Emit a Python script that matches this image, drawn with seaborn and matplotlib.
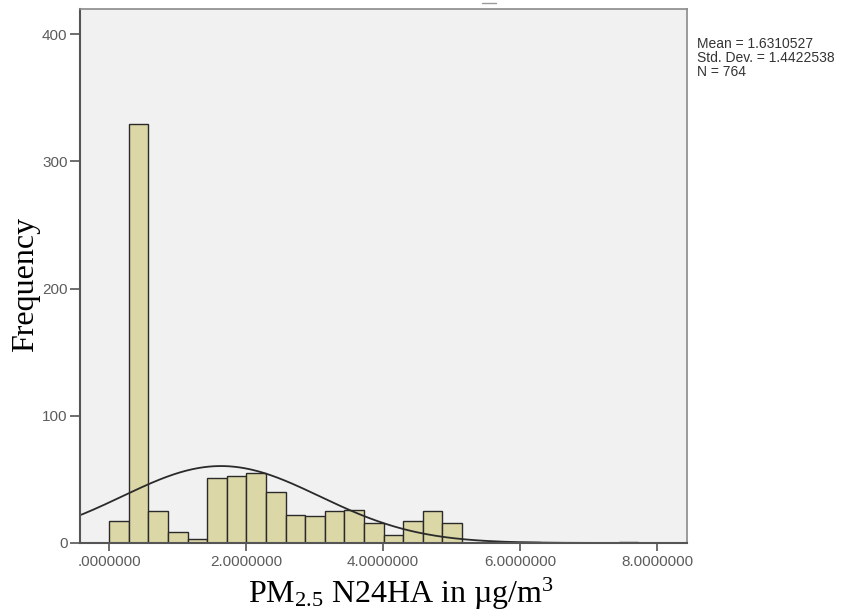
import numpy as np
import pandas as pd
import matplotlib
matplotlib.use("Agg")
import matplotlib.pyplot as plt
from matplotlib.lines import Line2D
import seaborn as sns

# Histogram bins (equal width, starting at 0) and their frequencies
bin_start = 0.0
bin_width = 0.2862
counts = [17, 329, 25, 9, 3, 51, 53, 55, 40, 22, 21, 25, 26, 16, 6, 17, 25, 16,
          0, 1, 1, 1, 0, 0, 0, 0, 1]

# Summary statistics of the variable
mean_val = 1.6310527
std_val = 1.4422538
n_obs = 764

x_ticks = [0, 2, 4, 6, 8]
x_tick_labels = [".0000000", "2.0000000", "4.0000000", "6.0000000", "8.0000000"]
y_ticks = [0, 100, 200, 300, 400]

edges = [bin_start + bin_width * i for i in range(len(counts) + 1)]
centers = [(edges[i] + edges[i + 1]) / 2 for i in range(len(counts))]
df = pd.DataFrame({"value": centers, "freq": counts})

sns.set_style("white")
plt.rcParams["font.family"] = ["Liberation Sans", "DejaVu Sans"]
plt.rcParams["mathtext.fontset"] = "custom"
plt.rcParams["mathtext.rm"] = "Liberation Serif"
plt.rcParams["mathtext.it"] = "Liberation Serif:italic"
plt.rcParams["mathtext.bf"] = "Liberation Serif:bold"

W, H = 862, 613
fig = plt.figure(figsize=(W / 100, H / 100), dpi=100)
fig.patch.set_facecolor("white")
ax = fig.add_axes([80 / W, 1 - 543 / H, (687 - 80) / W, (543 - 9) / H])
ax.set_facecolor("#f1f1f1")

sns.histplot(data=df, x="value", weights="freq", bins=edges, stat="count",
             color="#dbd7a7", edgecolor="#2a2a2a", linewidth=1.0, alpha=1.0, ax=ax)
for p in list(ax.patches):
    if p.get_height() == 0:
        p.remove()

# Fitted normal curve scaled to the histogram
xs = np.linspace(-0.5, 8.5, 600)
dens = n_obs * bin_width * np.exp(-0.5 * ((xs - mean_val) / std_val) ** 2) / (std_val * np.sqrt(2 * np.pi))
sns.lineplot(x=xs, y=dens, color="#2a2a2a", linewidth=1.3, ax=ax)

ax.set_xlim(-0.428, 8.438)
ax.set_ylim(0, 419.7)
ax.set_xticks(x_ticks)
ax.set_xticklabels(x_tick_labels)
ax.set_yticks(y_ticks)
ax.tick_params(axis="both", direction="out", width=1.2, color="#555555",
               labelsize=11, labelcolor="#5c5c5c")
ax.tick_params(axis="x", bottom=True, length=6, pad=3)
ax.tick_params(axis="y", left=True, length=7.5, pad=1.5)

for side in ["left", "bottom"]:
    ax.spines[side].set_color("#555555")
    ax.spines[side].set_linewidth(1.5)
for side in ["top", "right"]:
    ax.spines[side].set_visible(True)
    ax.spines[side].set_color("#8a8a8a")
    ax.spines[side].set_linewidth(1.2)

ax.set_xlabel(r"PM$_{\mathrm{2.5}}$ N24HA in µg/m$^{\mathrm{3}}$",
              family="Liberation Serif", fontsize=23, color="black")
ax.xaxis.label.set_va("baseline")
ax.xaxis.set_label_coords((401 - 80) / 607, (543 - 603) / 534)
ax.set_ylabel("Frequency", family="Liberation Serif", fontsize=23, color="black")
ax.yaxis.label.set_va("center")
ax.yaxis.set_label_coords((25.5 - 80) / 607, (543 - 284) / 534)

fig.text(697 / W, 1 - 37 / H,
         f"Mean = {mean_val:.7f}\nStd. Dev. = {std_val:.7f}\nN = {n_obs}",
         ha="left", va="top", fontsize=10, color="#333333", linespacing=1.0)

# short grey mark above the frame
fig.add_artist(Line2D([482 / W, 496 / W], [1 - 3 / H, 1 - 3 / H],
                      color="#9a9a9a", linewidth=1.0))

fig.savefig("out.png", dpi=100)
